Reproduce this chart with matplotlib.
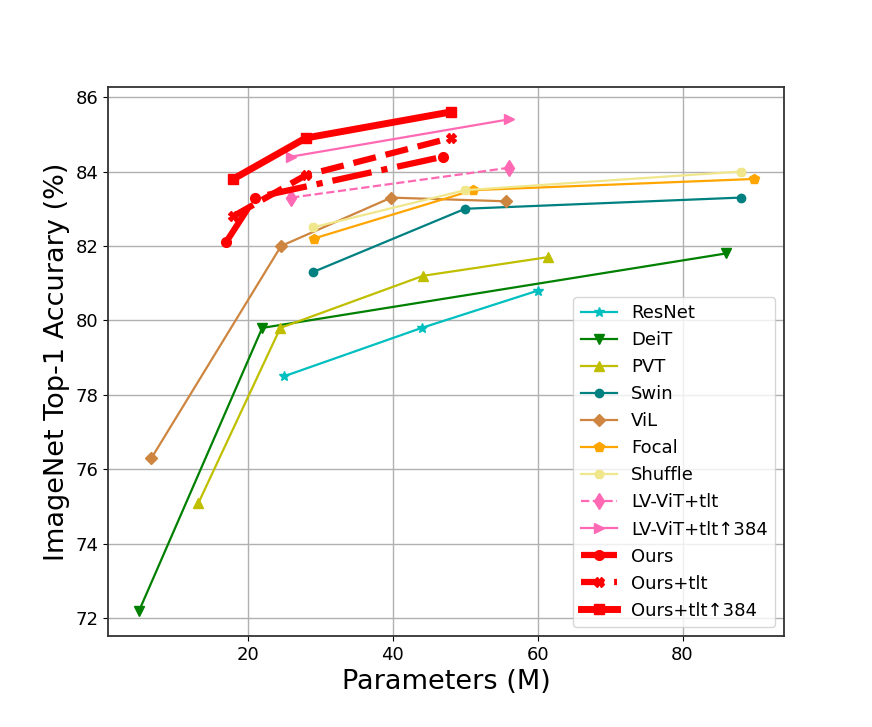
import matplotlib
matplotlib.use("Agg")
import matplotlib.pyplot as plt

resnet_x = [25, 44, 60]
resnet_y = [78.5, 79.8, 80.8]
deit_x = [5, 22, 86]
deit_y = [72.2, 79.8, 81.8]
pvt_x = [13.2, 24.5, 44.2, 61.4]
pvt_y = [75.1, 79.8, 81.2, 81.7]
swin_x = [29, 50, 88]
swin_y = [81.3, 83.0, 83.3]
vil_x = [6.7, 24.6, 39.8, 55.7]
vil_y = [76.3, 82.0, 83.3, 83.2]
focal_x = [29.1, 51.1, 89.8]
focal_y = [82.2, 83.5, 83.8]
shuffle_x = [29, 50, 88]
shuffle_y = [82.5, 83.5, 84.0]
lvvit_x = [26, 56]
lvvit_y = [83.3, 84.1]
lvvit384_x = [26, 56]
lvvit384_y = [84.4, 85.4]
ours_x = [17, 21, 47]
ours_y = [82.1, 83.3, 84.4]
ourstlt_x = [18, 28, 48]
ourstlt_y = [82.8, 83.9, 84.9]
ours384_x = [18, 28, 48]
ours384_y = [83.8, 84.9, 85.6]

fig = plt.figure(figsize=(8.72, 7.27), dpi=100)
ax = fig.add_axes([0.1242, 0.1254, 0.7752, 0.7549])

thin = 1.6
ax.plot(resnet_x, resnet_y, color='c', marker='*', lw=thin, ms=7, label='ResNet')
ax.plot(deit_x, deit_y, color='g', marker='v', lw=thin, ms=7, label='DeiT')
ax.plot(pvt_x, pvt_y, color='y', marker='^', lw=thin, ms=7, label='PVT')
ax.plot(swin_x, swin_y, color='teal', marker='o', lw=thin, ms=6, label='Swin')
ax.plot(vil_x, vil_y, color='peru', marker='D', lw=thin, ms=6.5, label='ViL')
ax.plot(focal_x, focal_y, color='orange', marker='p', lw=thin, ms=7, label='Focal')
ax.plot(shuffle_x, shuffle_y, color='khaki', marker='8', lw=thin, ms=7, label='Shuffle')
ax.plot(lvvit_x, lvvit_y, color='hotpink', marker='d', ls='--', lw=thin, ms=8, label='LV-ViT+tlt')
ax.plot(lvvit384_x, lvvit384_y, color='hotpink', marker='>', lw=thin, ms=7, label='LV-ViT+tlt\u2191384')
ax.plot(ours_x, ours_y, color='red', marker='o', ls='-.', lw=4.5, ms=7, label='Ours')
ax.plot(ourstlt_x, ourstlt_y, color='red', marker='X', ls='--', lw=4.5, ms=7, label='Ours+tlt')
ax.plot(ours384_x, ours384_y, color='red', marker='s', ls='-', lw=5, ms=7, label='Ours+tlt\u2191384')

ax.grid(True, color='#b0b0b0', lw=1.0)
ax.set_axisbelow(True)
ax.set_yticks([72, 74, 76, 78, 80, 82, 84, 86])
ax.set_xticks([20, 40, 60, 80])
ax.tick_params(labelsize=13)
for s in ax.spines.values():
    s.set_color('#333333')
    s.set_linewidth(1.3)
ax.set_xlabel('Parameters (M)', fontsize=19.5)
ax.set_ylabel('ImageNet Top-1 Accurary (%)', fontsize=19.5)
ax.legend(loc='lower right', fontsize=13)

fig.savefig('out.png', dpi=100)
